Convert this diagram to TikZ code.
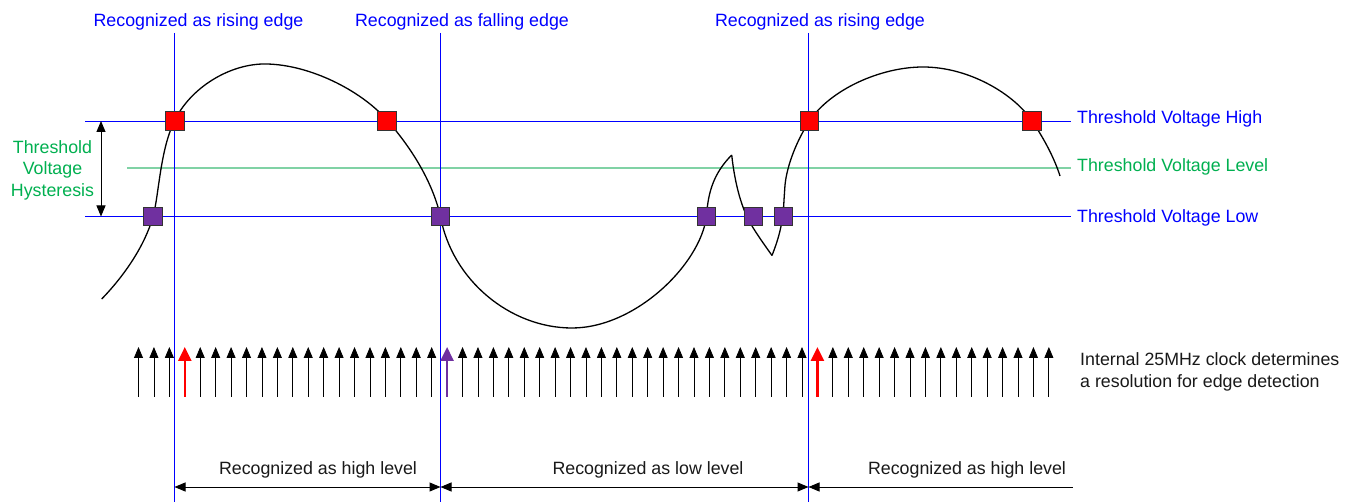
\documentclass[tikz,border=0pt]{standalone}
\usepackage{fontspec}
\setmainfont{Liberation Sans}
\usetikzlibrary{arrows.meta}
\definecolor{tblue}{RGB}{0,0,255}
\definecolor{tgreen}{RGB}{0,176,80}
\definecolor{lgreen}{RGB}{128,210,165}
\definecolor{tpurple}{RGB}{112,48,160}
\definecolor{tred}{RGB}{255,0,0}
\begin{document}
\begin{tikzpicture}[x=1pt,y=-1pt,
  lbl/.style={font=\fontsize{17.8}{21.5}\selectfont, inner sep=0pt},
  bluelbl/.style={lbl, text=tblue},
  greenlbl/.style={lbl, text=tgreen},
  blacklbl/.style={lbl, text=black!90},
  hline/.style={draw=tblue, line width=0.9pt},
  gline/.style={draw=lgreen, line width=1.6pt},
  vline/.style={draw=tblue, line width=0.9pt},
  wave/.style={draw=black, line width=1.3pt, line join=round},
  sq/.style={draw=black!80, line width=0.7pt, minimum size=18.5pt, inner sep=0pt, rectangle},
  redsq/.style={sq, fill=tred},
  pursq/.style={sq, fill=tpurple},
  clk/.style={-{Triangle[width=9pt,length=11pt]}, line width=0.8pt, draw=black},
  clkc/.style={-{Triangle[width=13pt,length=14pt]}, line width=2.4pt},
  dimarr/.style={{Triangle[width=9pt,length=11pt]}-{Triangle[width=9pt,length=11pt]}, line width=1pt, draw=black},
  dimarrl/.style={{Triangle[width=9pt,length=11pt]}-, line width=1pt, draw=black}
]
\useasboundingbox (0,0) rectangle (1352,502);
\fill[white] (0,0) rectangle (1352,502);

% threshold lines
\coordinate (hhL) at (85,121);   \coordinate (hhR) at (1071,121);
\coordinate (hgL) at (127,168);  \coordinate (hgR) at (1071,168);
\coordinate (hlL) at (85,216.5); \coordinate (hlR) at (1071,216.5);
\draw[hline] (hhL) -- (hhR);
\draw[gline] (hgL) -- (hgR);
\draw[hline] (hlL) -- (hlR);

% vertical recognition lines
\coordinate (v1t) at (174.5,33); \coordinate (v1b) at (174.5,502);
\coordinate (v2t) at (440.5,33); \coordinate (v2b) at (440.5,502);
\coordinate (v3t) at (808.5,33); \coordinate (v3b) at (808.5,502);
\draw[vline] (v1t) -- (v1b);
\draw[vline] (v2t) -- (v2b);
\draw[vline] (v3t) -- (v3b);

% waveform
\draw[wave] (101.7,299) .. controls (125,275) and (145,245) .. (153,216.7)
  .. controls (159,195) and (160,150) .. (174.5,121)
  .. controls (190,88) and (230,63) .. (267,64)
  .. controls (310,65) and (360,90) .. (386,119)
  .. controls (410,146) and (432,180) .. (440.5,216.5)
  .. controls (452,280) and (510,328) .. (572,328)
  .. controls (635,328) and (700,265) .. (706.5,216.5)
  .. controls (708,190) and (715,172) .. (731.7,155);
\draw[wave] (731.7,155) .. controls (735,185) and (742,210) .. (752,226)
  .. controls (758,236) and (766,247) .. (772,255.5);
\draw[wave] (772,255.5) .. controls (778,240) and (783,225) .. (784,200)
  -- (785,185)
  .. controls (787,165) and (797,140) .. (809.5,121)
  .. controls (830,90) and (880,67) .. (923,67)
  .. controls (970,67) and (1015,95) .. (1032,121)
  .. controls (1045,140) and (1055,160) .. (1060,176);

% markers
\node[pursq] (p1) at (153,216.5) {};
\node[pursq] (p2) at (440.5,216.5) {};
\node[pursq] (p3) at (706.5,216.5) {};
\node[pursq] (p4) at (753.5,216.5) {};
\node[pursq] (p5) at (783.5,216.5) {};
\node[redsq] (r1) at (175,121) {};
\node[redsq] (r2) at (387,121) {};
\node[redsq] (r3) at (809.5,121) {};
\node[redsq] (r4) at (1032,121) {};

% hysteresis arrow
\coordinate (hyT) at (101,121);
\coordinate (hyB) at (101,216.5);
\draw[dimarr] (hyT) -- (hyB);
\node[greenlbl, align=center] (hyst) at (52.5,170) {Threshold\\Voltage\\Hysteresis};

% top labels
\node[bluelbl, anchor=base] (t1) at (198.5,26.5) {Recognized as rising edge};
\node[bluelbl, anchor=base] (t2) at (462,26.5) {Recognized as falling edge};
\node[bluelbl, anchor=base] (t3) at (820,26.5) {Recognized as rising edge};

% right labels
\node[bluelbl, anchor=base west] (lh) at (1077,123.3) {Threshold Voltage High};
\node[greenlbl, anchor=base west] (lg) at (1077,171.5) {Threshold Voltage Level};
\node[bluelbl, anchor=base west] (ll) at (1077,223) {Threshold Voltage Low};

% clock arrows
\foreach \i in {0,...,59}{
  \pgfmathsetmacro\xx{138.5+15.43*\i}
  \coordinate (cb\i) at (\xx,397);
  \coordinate (ct\i) at (\xx,347);
}
\foreach \i in {0,1,2,4,5,...,19,21,22,...,43,45,46,...,59}{
  \draw[clk] (cb\i) -- (ct\i);
}
\draw[clkc, draw=tred, fill=tred] (cb3) -- (ct3);
\draw[clkc, draw=tpurple, fill=tpurple] (cb20) -- (ct20);
\draw[clkc, draw=tred, fill=tred] (cb44) -- (ct44);

\node[blacklbl, anchor=base west, align=left] (clktxt) at (1080,387.5)
  {Internal 25MHz clock determines\\a resolution for edge detection};

% level durations
\coordinate (d1) at (174.5,487);
\coordinate (d2) at (440.5,487);
\coordinate (d3) at (808.5,487);
\coordinate (d4) at (1073,487);
\draw[dimarr] (d1) -- (d2);
\draw[dimarr] (d2) -- (d3);
\draw[dimarrl] (d3) -- (d4);
\node[blacklbl, anchor=base] (b1) at (318,474.3) {Recognized as high level};
\node[blacklbl, anchor=base] (b2) at (648,474.3) {Recognized as low level};
\node[blacklbl, anchor=base] (b3) at (967,474.3) {Recognized as high level};
\end{tikzpicture}
\end{document}
